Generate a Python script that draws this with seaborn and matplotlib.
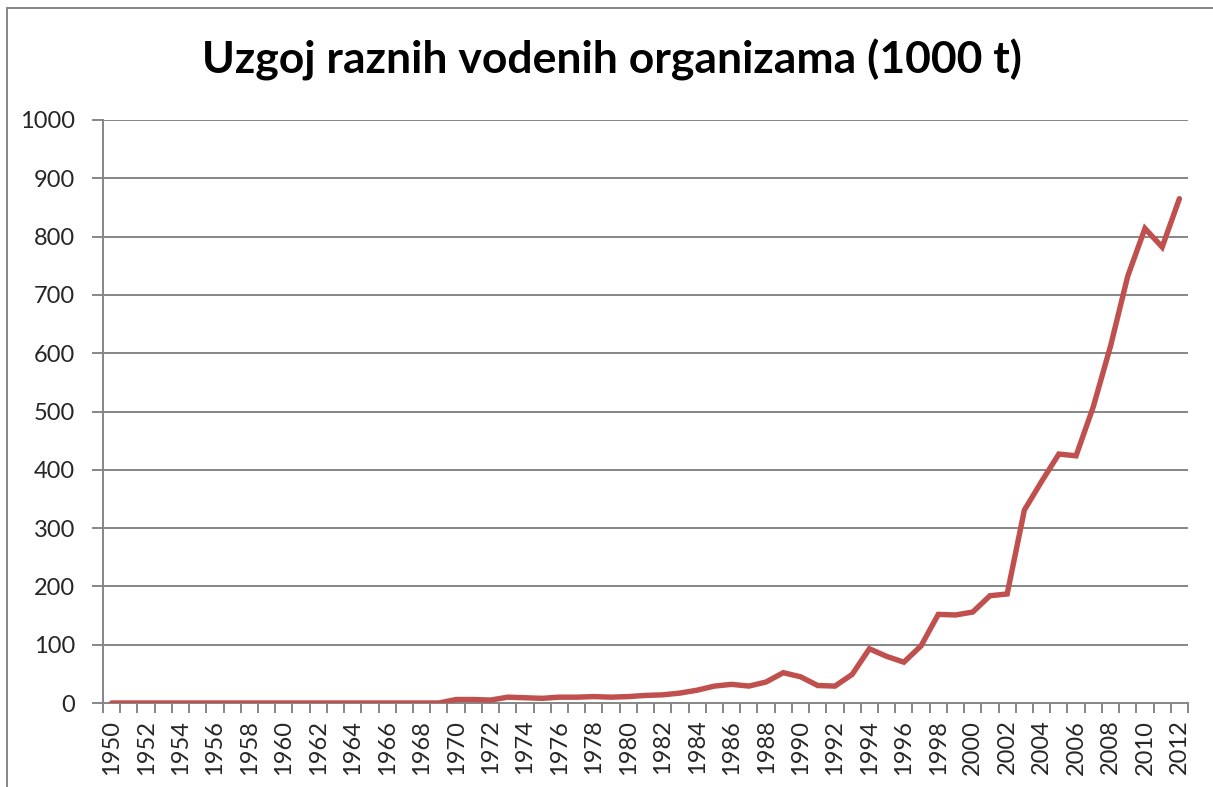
import numpy as np
import pandas as pd
import seaborn as sns
import matplotlib.pyplot as plt
from matplotlib.ticker import FixedLocator

# data (1000 t)
years = list(range(1950, 2013))
production = [0] * 20 + [
    6, 6, 5, 10, 9, 8, 10, 10, 11, 10,        # 1970-1979
    11, 13, 14, 17, 22, 29, 32, 29, 36, 52,   # 1980-1989
    45, 30, 29, 49, 93, 80, 70, 98, 152, 151, # 1990-1999
    156, 184, 187, 331, 380, 427, 424, 508, 612, 732,  # 2000-2009
    814, 782, 865,                            # 2010-2012
]
title = "Uzgoj raznih vodenih organizama (1000 t)"
y_ticks = list(range(0, 1001, 100))
x_labels = [y for y in years if y % 2 == 0]

df = pd.DataFrame({"year": years, "value": production})

sns.set_theme(style="white")
plt.rcParams['font.family'] = ['Lato', 'DejaVu Sans']

W, H = 1213, 787
fig = plt.figure(figsize=(W / 100, H / 100), dpi=100)
ax = fig.add_axes([103 / W, (H - 703) / H, (1188 - 103) / W, (703 - 120) / H])

grid_c = '#868686'
for v in y_ticks[1:]:
    ax.axhline(v, color=grid_c, lw=1.4, zorder=1)

sns.lineplot(data=df, x="year", y="value", color='#C0504D', lw=3.9,
             ax=ax, zorder=3, solid_joinstyle='miter')

ax.set_xlim(years[0] - 0.5, years[-1] + 0.5)
ax.set_ylim(0, 1000)
ax.set_xlabel('')
ax.set_ylabel('')

ax.yaxis.set_major_locator(FixedLocator(y_ticks))
ax.set_yticklabels([str(v) for v in y_ticks])
ax.xaxis.set_major_locator(FixedLocator(x_labels))
ax.set_xticklabels([str(y) for y in x_labels], rotation=90)
ax.xaxis.set_minor_locator(FixedLocator(np.arange(years[0] - 0.5, years[-1] + 1, 1)))

ax.tick_params(axis='y', which='major', direction='out', length=8, width=1.4,
               color=grid_c, labelsize=17, pad=12, left=True)
ax.tick_params(axis='x', which='major', length=0, labelsize=17, pad=12, bottom=True)
ax.tick_params(axis='x', which='minor', direction='out', length=7, width=1.4,
               color=grid_c, bottom=True)

for s in ['top', 'right']:
    ax.spines[s].set_visible(False)
for s in ['left', 'bottom']:
    ax.spines[s].set_color(grid_c)
    ax.spines[s].set_linewidth(1.4)
ax.spines['bottom'].set_zorder(2)

fig.text(612 / W, 1 - 60 / H, title, ha='center', va='center',
         fontsize=32, fontweight='bold', color='black')

# chart area border (only top and left visible in the crop)
fig.add_artist(plt.Line2D([7 / W, 7 / W], [0, 1 - 7.5 / H], color=grid_c, lw=1.4))
fig.add_artist(plt.Line2D([7 / W, 1], [1 - 7.5 / H, 1 - 7.5 / H], color=grid_c, lw=1.4))

fig.savefig('out.png', dpi=100, facecolor='white')
